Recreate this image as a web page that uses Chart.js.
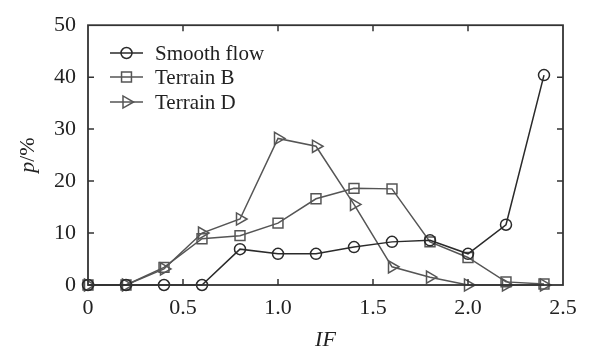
<!DOCTYPE html>
<html>
<head>
<meta charset="utf-8">
<script src="https://cdn.jsdelivr.net/npm/chart.js@4/dist/chart.umd.min.js"></script>
<style>
html,body{margin:0;padding:0;background:#fff;}
#wrap{width:592px;height:351px;position:relative;}
</style>
</head>
<body>
<div id="wrap"><canvas id="c" width="592" height="351"></canvas></div>
<script>
const xValues = [0, 0.2, 0.4, 0.6, 0.8, 1.0, 1.2, 1.4, 1.6, 1.8, 2.0, 2.2, 2.4];
const smoothFlow = [0, 0, 0, 0, 6.9, 6.0, 6.0, 7.3, 8.3, 8.6, 6.0, 11.6, 40.4];
const terrainB   = [0, 0, 3.4, 8.9, 9.5, 11.9, 16.6, 18.6, 18.5, 8.3, 5.3, 0.6, 0.2];
const terrainD   = [0, 0, 3.1, 10.0, 12.7, 28.2, 26.7, 15.5, 3.5, 1.5, 0, 0, 0];
const seriesNames = ['Smooth flow', 'Terrain B', 'Terrain D'];
const xTicks = [0, 0.5, 1.0, 1.5, 2.0, 2.5];
const yTicks = [0, 10, 20, 30, 40, 50];

const FONT = '"Liberation Serif", "Times New Roman", serif';
const toXY = arr => arr.map((v, i) => ({x: xValues[i], y: v}));

const styles = [
  {color: '#2a2a2a', pointStyle: 'circle', radius: 5.5, rotation: 0},
  {color: '#555555', pointStyle: 'rect', radius: 7, rotation: 0},
  {color: '#555555', pointStyle: 'triangle', radius: 7, rotation: 90}
];
const seriesData = [smoothFlow, terrainB, terrainD];

const datasets = seriesData.map((d, i) => ({
  label: seriesNames[i],
  data: toXY(d),
  borderColor: styles[i].color,
  borderWidth: 1.5,
  pointStyle: styles[i].pointStyle,
  pointRadius: styles[i].radius,
  pointRotation: styles[i].rotation,
  pointBorderColor: styles[i].color,
  pointBorderWidth: 1.5,
  pointBackgroundColor: 'rgba(0,0,0,0)',
  clip: false,
  tension: 0
}));

const framePlugin = {
  id: 'frame',
  afterDatasetsDraw(chart) {
    const {ctx, chartArea: a, scales: {x, y}} = chart;
    ctx.save();
    ctx.strokeStyle = '#333';
    ctx.lineWidth = 1.8;
    ctx.strokeRect(a.left, a.top, a.right - a.left, a.bottom - a.top);
    ctx.lineWidth = 1.5;
    const tl = 6;
    ctx.beginPath();
    xTicks.forEach(v => {
      if (v === xTicks[0] || v === xTicks[xTicks.length - 1]) return;
      const px = x.getPixelForValue(v);
      ctx.moveTo(px, a.bottom); ctx.lineTo(px, a.bottom - tl);
      ctx.moveTo(px, a.top); ctx.lineTo(px, a.top + tl);
    });
    yTicks.forEach(v => {
      if (v === yTicks[0] || v === yTicks[yTicks.length - 1]) return;
      const py = y.getPixelForValue(v);
      ctx.moveTo(a.left, py); ctx.lineTo(a.left + tl, py);
      ctx.moveTo(a.right, py); ctx.lineTo(a.right - tl, py);
    });
    ctx.stroke();

    // legend
    const rows = [53, 77, 102];
    chart.data.datasets.forEach((ds, i) => {
      const ry = rows[i];
      ctx.strokeStyle = ds.borderColor;
      ctx.lineWidth = 1.5;
      ctx.beginPath();
      ctx.moveTo(110, ry); ctx.lineTo(143, ry);
      ctx.stroke();
      ctx.fillStyle = 'rgba(0,0,0,0)';
      Chart.helpers.drawPoint(ctx, {
        pointStyle: ds.pointStyle, rotation: ds.pointRotation,
        radius: ds.pointRadius, borderWidth: 1.5
      }, 126.5, ry);
      ctx.fillStyle = '#222';
      ctx.font = '21px ' + FONT;
      ctx.textBaseline = 'middle';
      ctx.textAlign = 'left';
      ctx.fillText(ds.label, 155, ry + 1);
    });

    // axis titles
    ctx.fillStyle = '#222';
    ctx.textBaseline = 'middle';
    ctx.font = 'italic 22px ' + FONT;
    ctx.textAlign = 'center';
    ctx.fillText('IF', (a.left + a.right) / 2, 340);

    ctx.save();
    ctx.translate(28, (a.top + a.bottom) / 2);
    ctx.rotate(-Math.PI / 2);
    ctx.font = 'italic 22px ' + FONT;
    const w1 = ctx.measureText('p').width;
    ctx.font = '22px ' + FONT;
    const w2 = ctx.measureText('/%').width;
    const start = -(w1 + w2) / 2;
    ctx.textAlign = 'left';
    ctx.font = 'italic 22px ' + FONT;
    ctx.fillText('p', start, 0);
    ctx.font = '22px ' + FONT;
    ctx.fillText('/%', start + w1, 0);
    ctx.restore();
    ctx.restore();
  }
};

new Chart(document.getElementById('c'), {
  type: 'line',
  data: {datasets},
  options: {
    responsive: false,
    animation: false,
    devicePixelRatio: 1,
    layout: {padding: {left: 0, right: 29, top: 17, bottom: 0}},
    plugins: {legend: {display: false}, tooltip: {enabled: false}},
    scales: {
      x: {
        type: 'linear', min: 0, max: 2.5,
        afterBuildTicks: s => { s.ticks = xTicks.map(v => ({value: v})); },
        afterFit: s => { s.height = 66; },
        grid: {display: false, drawTicks: false},
        border: {display: false},
        ticks: {
          padding: 10,
          color: '#222',
          font: {family: FONT, size: 22},
          maxRotation: 0,
          callback: v => v === 0 ? '0' : Number(v).toFixed(1)
        }
      },
      y: {
        type: 'linear', min: 0, max: 50,
        afterBuildTicks: s => { s.ticks = yTicks.map(v => ({value: v})); },
        afterFit: s => { s.width = 88; },
        grid: {display: false, drawTicks: false},
        border: {display: false},
        ticks: {
          padding: 12,
          color: '#222',
          font: {family: FONT, size: 22}
        }
      }
    }
  },
  plugins: [framePlugin]
});
</script>
</body>
</html>
